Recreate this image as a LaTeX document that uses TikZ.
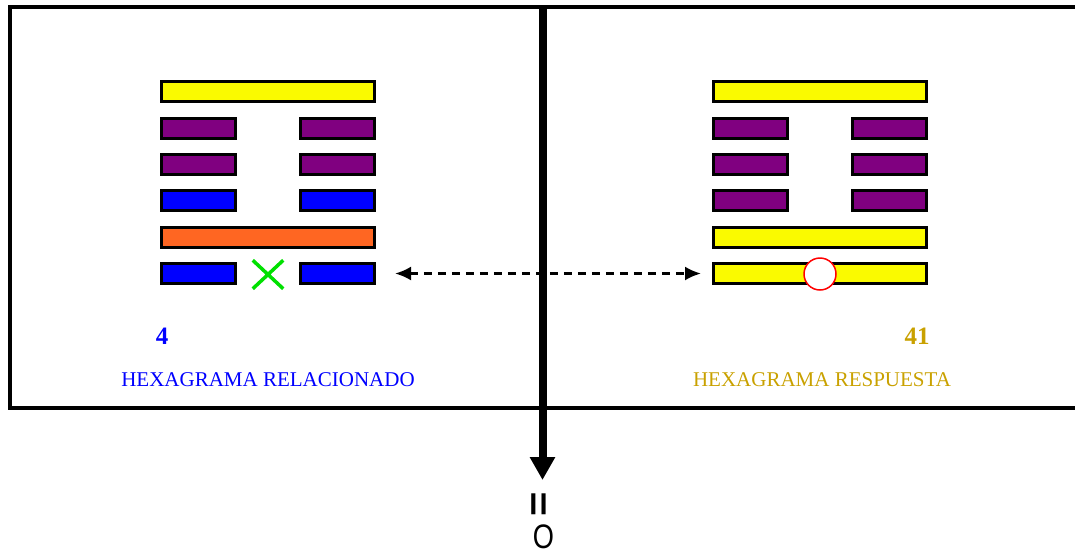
\documentclass[tikz,border=0pt]{standalone}
\usepackage{fontspec}
\setmainfont{Liberation Serif}
\newfontfamily\arialfont{Liberation Sans}
\usepackage{xcolor}
\usetikzlibrary{arrows.meta,shapes.misc}
\definecolor{yelbar}{HTML}{FAFA00}
\definecolor{purbar}{HTML}{800080}
\definecolor{blubar}{HTML}{0000FF}
\definecolor{orabar}{HTML}{FF6622}
\definecolor{goldtxt}{HTML}{C9A100}
\definecolor{crossgreen}{HTML}{00E000}

\begin{document}
\begin{tikzpicture}[x=1pt,y=-1pt]

\tikzset{yang/.style = {shape=rectangle,draw,line width=3pt,minimum width=213pt,minimum height=20pt,inner sep=0pt}}
\tikzset{yin/.style = {shape=rectangle,draw,line width=3pt,minimum width=74pt,minimum height=20pt,inner sep=0pt}}
\tikzset{title/.style = {font=\fontsize{21}{24}\selectfont,inner sep=0pt}}
\tikzset{number/.style = {font=\fontsize{25}{28}\selectfont\bfseries,inner sep=0pt}}
\tikzset{edge/.style = {line width=2.5pt,dash pattern=on 8pt off 6pt,{Latex[length=16pt,width=14pt]}-{Latex[length=16pt,width=14pt]}}}

\useasboundingbox (0,0) rectangle (1075,555);

% frame
\draw[line width=4pt] (1080,7) -- (9.5,7) -- (9.5,408) -- (1080,408);

% left hexagram
\node[yang,fill=yelbar] (L1) at (268,91.5) {};
\node[yin,fill=purbar] (L2a) at (198.5,128) {};
\node[yin,fill=purbar] (L2b) at (337.5,128) {};
\node[yin,fill=purbar] (L3a) at (198.5,164.5) {};
\node[yin,fill=purbar] (L3b) at (337.5,164.5) {};
\node[yin,fill=blubar] (L4a) at (198.5,200.5) {};
\node[yin,fill=blubar] (L4b) at (337.5,200.5) {};
\node[yang,fill=orabar] (L5) at (268,237) {};
\node[yin,fill=blubar] (L6a) at (198.5,273.5) {};
\node[yin,fill=blubar] (L6b) at (337.5,273.5) {};
\node[cross out,draw=crossgreen,line width=3.5pt,minimum width=27pt,minimum height=25pt,inner sep=0pt] (X) at (268,274.5) {};

% right hexagram
\node[yang,fill=yelbar] (R1) at (820,91.5) {};
\node[yin,fill=purbar] (R2a) at (750.5,128) {};
\node[yin,fill=purbar] (R2b) at (889.5,128) {};
\node[yin,fill=purbar] (R3a) at (750.5,164.5) {};
\node[yin,fill=purbar] (R3b) at (889.5,164.5) {};
\node[yin,fill=purbar] (R4a) at (750.5,200.5) {};
\node[yin,fill=purbar] (R4b) at (889.5,200.5) {};
\node[yang,fill=yelbar] (R5) at (820,237) {};
\node[yang,fill=yelbar] (R6) at (820,273.5) {};
\node[circle,draw=red,fill=white,line width=1.5pt,minimum size=32pt,inner sep=0pt] (C) at (820,274) {};

% labels
\node[number,text=blubar] (n4) at (162,336) {4};
\node[number,text=goldtxt] (n41) at (917,336) {41};
\node[title,text=blubar] (t1) at (268,380) {HEXAGRAMA RELACIONADO};
\node[title,text=goldtxt] (t2) at (822,380) {HEXAGRAMA RESPUESTA};

% axis
\coordinate (top) at (542.5,5);
\coordinate (tip) at (542.5,480);
\draw[line width=8pt,-{Triangle[length=23pt,width=24pt]}] (top) -- (tip);
\node[inner sep=0pt,font=\arialfont\bfseries\fontsize{38}{38}\selectfont,rotate=90] (eq) at (541.5,504) {\scalebox{1.1}[1]{=}};
\node[inner sep=0pt,font=\arialfont\fontsize{34}{34}\selectfont] (o) at (543.5,537) {\scalebox{0.8}[1]{O}};

%edges
\draw[edge,shorten <=19pt,shorten >=11pt] (L6b) -- (R6);
\end{tikzpicture}
\end{document}
